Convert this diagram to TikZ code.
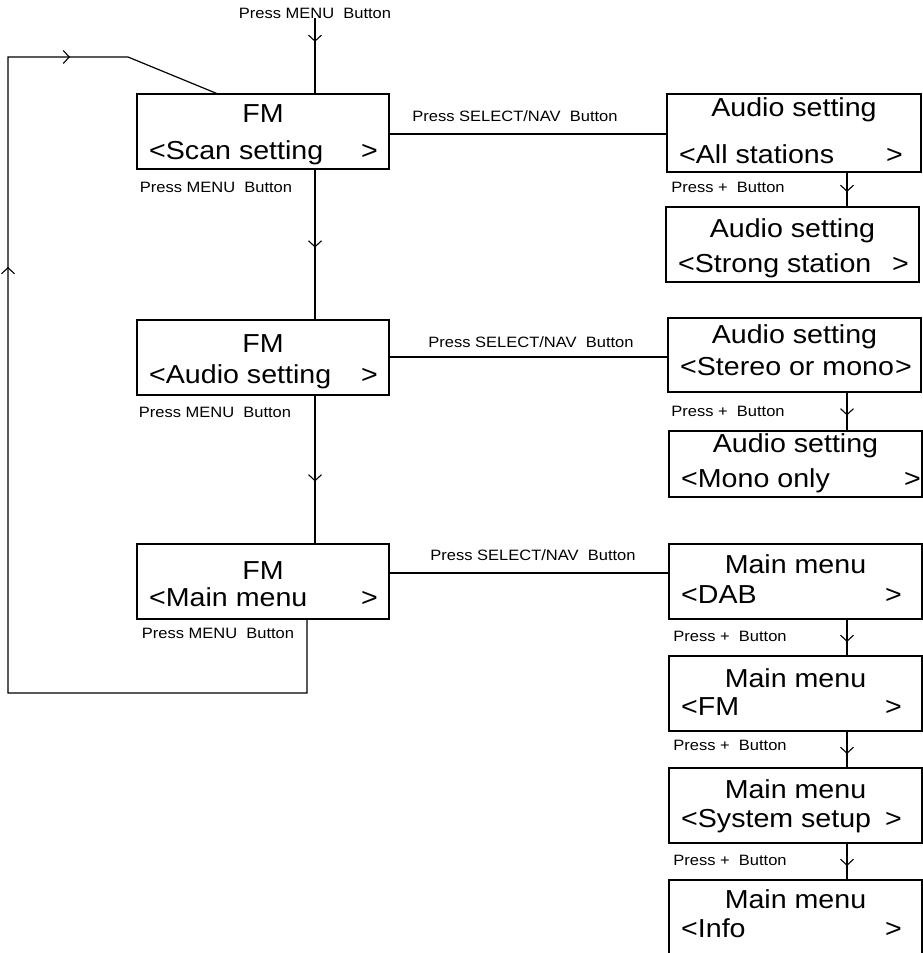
\documentclass[tikz,border=0pt]{standalone}
\usepackage{fontspec}
\setmainfont{Liberation Sans}
\newfontfamily\boxfnt[FakeStretch=1.1]{Liberation Sans}
\usetikzlibrary{arrows.meta,decorations.markings,fit}
\def\rgap{11}
\newcommand\menubox[9]{%
  \node[box, fit={(#2,#3) (#4,#5)}] (#1) {};
  \node[boxtxt, anchor=base] (#1t) at ({(#2+#4)/2},#6) {#8};
  \node[boxtxt, anchor=base west] (#1i) at ({#2+12},#7) {#9};
  \node[boxtxt, anchor=base east] (#1r) at ({#4-\rgap},#7) {>};
}
\tikzset{
  box/.style={draw, inner sep=0pt, outer sep=0pt, line width=1.2pt},
  boxtxt/.style={inner sep=0pt, font=\boxfnt\fontsize{26}{30}\selectfont},
  lab/.style={inner sep=0pt, font=\boxfnt\fontsize{15}{17}\selectfont},
  conn/.style={line width=1.2pt},
  vtip/.tip={Straight Barb[length=6pt,width=13pt,line width=1.1pt]},
  midarrow/.style={conn, postaction={decorate},
    decoration={markings, mark=at position #1 with {\arrow{vtip}}}},
  loopmarks/.style={conn, postaction={decorate},
    decoration={markings,
      mark=at position 799pt with {\arrow{vtip}},
      mark=at position 1071pt with {\arrow{vtip}}}}
}
\begin{document}
\begin{tikzpicture}[x=1pt,y=-1pt]
\clip (0,0) rectangle (923,953);
\fill[white] (0,0) rectangle (923,953);

% left column
\menubox{b1}{137}{94}{389}{169}{122}{159}{FM}{<Scan setting}
\menubox{b2}{137}{320}{389}{395}{352}{383}{FM}{<Audio setting}
\menubox{b3}{137}{544}{389}{619}{579}{606}{FM}{<Main menu}

% right column
\def\rgap{18}
\menubox{r1}{667}{94}{921}{172}{116}{163}{Audio setting}{<All stations}
\def\rgap{10}
\menubox{r2}{666}{207}{919}{282}{237}{272}{Audio setting}{<Strong station}
\def\rgap{9}
\menubox{r3}{668}{318}{921}{392}{343}{375}{Audio setting}{<Stereo or mono}
\def\rgap{1}
\menubox{r4}{669}{431}{922}{497}{452}{487}{Audio setting}{<Mono only}
\def\rgap{20}
\menubox{r5}{669}{544}{922}{619}{573}{603}{Main menu}{<DAB}
\menubox{r6}{669}{656}{922}{731}{687}{715}{Main menu}{<FM}
\menubox{r7}{669}{768}{922}{843}{798}{827}{Main menu}{<System setup}
\menubox{r8}{669}{880}{922}{965}{908}{937}{Main menu}{<Info}

% labels
\node[lab] (lblTop) at (315,13) {Press MENU~~Button};
\node[lab] (lblM1) at (216,187) {Press MENU~~Button};
\node[lab] (lblM2) at (215,412) {Press MENU~~Button};
\node[lab] (lblM3) at (218,633) {Press MENU~~Button};
\node[lab] (lblS1) at (515,116) {Press SELECT/NAV~~Button};
\node[lab] (lblS2) at (531,342) {Press SELECT/NAV~~Button};
\node[lab] (lblS3) at (533,555) {Press SELECT/NAV~~Button};
\node[lab] (lblP1) at (728,187) {Press +~~Button};
\node[lab] (lblP2) at (728,411) {Press +~~Button};
\node[lab] (lblP3) at (730,636) {Press +~~Button};
\node[lab] (lblP4) at (730,745) {Press +~~Button};
\node[lab] (lblP5) at (730,860) {Press +~~Button};

% helper coordinates
\coordinate (cx) at (315,0);
\coordinate (cy) at (307,0);
\coordinate (cj) at (218,0);
\coordinate (rx) at (847,0);
\coordinate (h1) at (0,134);
\coordinate (h2) at (0,357);
\coordinate (h3) at (0,573);
\coordinate (ld) at (307,693);
\coordinate (ll) at (8,693);
\coordinate (lt) at (8,57);
\coordinate (lk) at (128,57);

% left column connectors
\draw[midarrow=0.31] (lblTop.south) -- (lblTop.south |- b1.north);
\draw[midarrow=0.52] (b1.south -| cx) -- (b2.north -| cx);
\draw[midarrow=0.58] (b2.south -| cx) -- (b3.north -| cx);
\draw[loopmarks] (b3.south -| cy) -- (ld) -- (ll) -- (lt) -- (lk) -- (b1.north -| cj);

% horizontal connectors
\draw[conn] (b1.east |- h1) -- (r1.west |- h1);
\draw[conn] (b2.east |- h2) -- (r3.west |- h2);
\draw[conn] (b3.east |- h3) -- (r5.west |- h3);

% right column connectors
\draw[midarrow=0.57] (r1.south -| rx) -- (r2.north -| rx);
\draw[midarrow=0.60] (r3.south -| rx) -- (r4.north -| rx);
\draw[midarrow=0.62] (r5.south -| rx) -- (r6.north -| rx);
\draw[midarrow=0.62] (r6.south -| rx) -- (r7.north -| rx);
\draw[midarrow=0.62] (r7.south -| rx) -- (r8.north -| rx);
\end{tikzpicture}
\end{document}
